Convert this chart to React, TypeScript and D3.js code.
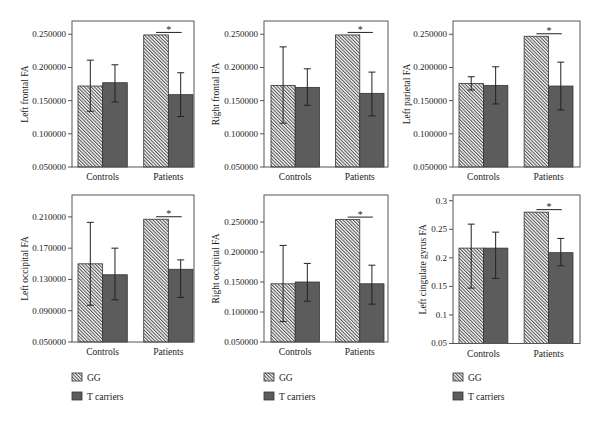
import React from 'react';
import * as d3 from 'd3';

const panelLabels = [
  'Left frontal FA',
  'Right frontal FA',
  'Left parietal FA',
  'Left occipital FA',
  'Right occipital FA',
  'Left cingulate gyrus FA',
];
const groups = ['Controls', 'Patients'];
const genotypes = ['GG', 'T carriers'];

// [Controls, Patients] per panel
const ggMean = [[0.172, 0.249], [0.173, 0.249], [0.176, 0.247], [0.150, 0.207], [0.147, 0.254], [0.217, 0.280]];
const ggLow = [[0.134, null], [0.116, null], [0.166, null], [0.097, null], [0.084, null], [0.147, null]];
const ggHigh = [[0.211, null], [0.231, null], [0.186, null], [0.203, null], [0.211, null], [0.259, null]];
const tMean = [[0.177, 0.159], [0.170, 0.161], [0.173, 0.172], [0.136, 0.143], [0.150, 0.147], [0.217, 0.209]];
const tLow = [[0.148, 0.126], [0.143, 0.127], [0.145, 0.136], [0.104, 0.107], [0.118, 0.113], [0.164, 0.186]];
const tHigh = [[0.204, 0.192], [0.198, 0.193], [0.201, 0.208], [0.170, 0.155], [0.181, 0.178], [0.245, 0.234]];

const yMin = [0.05, 0.05, 0.05, 0.05, 0.05, 0.05];
const yMax = [0.27, 0.27, 0.27, 0.238, 0.295, 0.31];
const yTicks = [
  [0.05, 0.1, 0.15, 0.2, 0.25],
  [0.05, 0.1, 0.15, 0.2, 0.25],
  [0.05, 0.1, 0.15, 0.2, 0.25],
  [0.05, 0.09, 0.13, 0.17, 0.21],
  [0.05, 0.1, 0.15, 0.2, 0.25],
  [0.05, 0.1, 0.15, 0.2, 0.25, 0.3],
];
const tickFormats = ['.6f', '.6f', '.6f', '.6f', '.6f', '~g'];
const sigMarker = ['*', '*', '*', '*', '*', '*'];

// layout (pixels)
const layout = [
  { left: 72, right: 194, top: 21, bottom: 167, barL: 78, barR: 193, labelX: 25 },
  { left: 264, right: 388, top: 21, bottom: 167, barL: 271, barR: 384, labelX: 216 },
  { left: 453, right: 580, top: 21, bottom: 167, barL: 459, barR: 573, labelX: 407 },
  { left: 72, right: 194, top: 195, bottom: 342, barL: 78, barR: 193, labelX: 25 },
  { left: 264, right: 388, top: 195, bottom: 342, barL: 271, barR: 384, labelX: 216 },
  { left: 453, right: 580, top: 195, bottom: 343.5, barL: 459, barR: 573, labelX: 423 },
];
const legendX = [72, 264, 453];
const FONT = "'Liberation Serif', 'Times New Roman', serif";
const TEXT = '#222';
const DARK = '#5c5c5c';

function Panel({ i }: { i: number }) {
  const L = layout[i];
  const y = d3.scaleLinear().domain([yMin[i], yMax[i]]).range([L.bottom, L.top]);
  const x0 = d3.scaleBand().domain(groups).range([L.barL, L.barR]).paddingInner(0.25).paddingOuter(0);
  const x1 = d3.scaleBand().domain(genotypes).range([0, x0.bandwidth()]);
  const fmt = d3.format(tickFormats[i]);
  const bw = x1.bandwidth();
  const bars: any[] = [];
  groups.forEach((g, gi) => {
    const gx = x0(g)!;
    const series = [
      { key: 'GG', mean: ggMean[i][gi], lo: ggLow[i][gi], hi: ggHigh[i][gi] },
      { key: 'T carriers', mean: tMean[i][gi], lo: tLow[i][gi], hi: tHigh[i][gi] },
    ];
    series.forEach((s) => {
      const bx = gx + x1(s.key)!;
      bars.push(
        <rect
          key={g + s.key}
          x={bx}
          y={y(s.mean)}
          width={bw}
          height={L.bottom - y(s.mean)}
          fill={s.key === 'GG' ? 'url(#hatch)' : DARK}
          stroke="#333"
          strokeWidth={0.8}
        />
      );
      if (s.lo != null && s.hi != null) {
        const cx = bx + bw / 2;
        bars.push(
          <g key={g + s.key + 'err'} stroke="#222" strokeWidth={1}>
            <line x1={cx} x2={cx} y1={y(s.hi)} y2={y(s.lo)} />
            <line x1={cx - 3.5} x2={cx + 3.5} y1={y(s.hi)} y2={y(s.hi)} />
            <line x1={cx - 3.5} x2={cx + 3.5} y1={y(s.lo)} y2={y(s.lo)} />
          </g>
        );
      }
    });
  });
  const pg = x0('Patients')!;
  const sx1 = pg + x1('GG')! + bw / 2;
  const sx2 = pg + x1('T carriers')! + bw / 2 + 1;
  const sy = y(ggMean[i][1]) - 2.5;
  return (
    <g>
      <rect x={L.left} y={L.top} width={L.right - L.left} height={L.bottom - L.top} fill="#fff" stroke="none" />
      {bars}
      <rect x={L.left} y={L.top} width={L.right - L.left} height={L.bottom - L.top} fill="none" stroke="#555" strokeWidth={1} />
      {yTicks[i].map((t) => (
        <g key={t}>
          <line x1={L.left - 4} x2={L.left} y1={y(t)} y2={y(t)} stroke="#555" strokeWidth={1} />
          <text x={L.left - 6} y={y(t)} dy="0.33em" textAnchor="end" fontSize={9} fontFamily={FONT} fill={TEXT}>
            {fmt(t)}
          </text>
        </g>
      ))}
      {groups.map((g) => (
        <text key={g} x={x0(g)! + x0.bandwidth() / 2} y={L.bottom + 13} textAnchor="middle" fontSize={9.5} fontFamily={FONT} fill={TEXT}>
          {g}
        </text>
      ))}
      <text
        transform={`translate(${L.labelX},${(L.top + L.bottom) / 2}) rotate(-90)`}
        textAnchor="middle"
        dy="0.33em"
        fontSize={9.5}
        fontFamily={FONT}
        fill={TEXT}
      >
        {panelLabels[i]}
      </text>
      <line x1={sx1} x2={sx2} y1={sy} y2={sy} stroke="#222" strokeWidth={1} />
      <text x={(sx1 + sx2) / 2} y={sy + 0.5} textAnchor="middle" fontSize={10} fontFamily={FONT} fill={TEXT}>
        {sigMarker[i]}
      </text>
    </g>
  );
}

function Legend({ x }: { x: number }) {
  return (
    <g>
      <rect x={x} y={373} width={10} height={8} fill="url(#hatch)" stroke="#333" strokeWidth={0.8} />
      <text x={x + 15} y={380.5} fontSize={9.5} fontFamily={FONT} fill={TEXT}>{genotypes[0]}</text>
      <rect x={x} y={392} width={10} height={8} fill={DARK} stroke="#333" strokeWidth={0.8} />
      <text x={x + 15} y={399.5} fontSize={9.5} fontFamily={FONT} fill={TEXT}>{genotypes[1]}</text>
    </g>
  );
}

export default function App() {
  return (
    <svg width={600} height={425} style={{ position: 'absolute', left: 0, top: 0, background: '#fff' }}>
      <defs>
        <pattern id="hatch" patternUnits="userSpaceOnUse" width={2.4} height={10} patternTransform="rotate(-45)">
          <rect width={2.4} height={10} fill="#fff" />
          <line x1={0.6} x2={0.6} y1={0} y2={10} stroke="#222" strokeWidth={0.85} />
        </pattern>
      </defs>
      <rect width={600} height={425} fill="#fff" />
      {layout.map((_, i) => (
        <Panel key={i} i={i} />
      ))}
      {legendX.map((x) => (
        <Legend key={x} x={x} />
      ))}
    </svg>
  );
}
